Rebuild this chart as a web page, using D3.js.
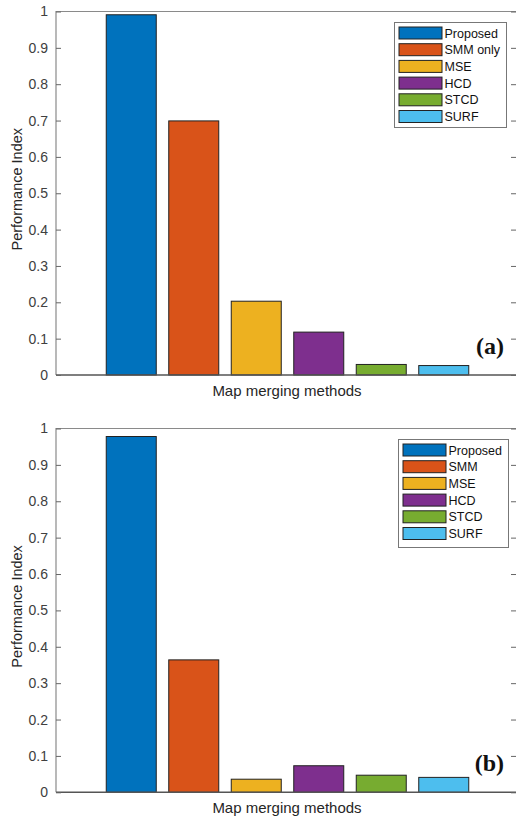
<!DOCTYPE html>
<html>
<head>
<meta charset="utf-8">
<script src="https://cdn.jsdelivr.net/npm/d3@7"></script>
<style>
  body { margin: 0; background: #fff; }
  svg { display: block; font-family: "Liberation Sans", Arial, sans-serif; }
</style>
</head>
<body>
<script>
const w = 516;
const h = 819;

// data
const methodsA = ["Proposed", "SMM only", "MSE", "HCD", "STCD", "SURF"];
const valuesA = [0.991, 0.699, 0.203, 0.118, 0.029, 0.026];
const methodsB = ["Proposed", "SMM", "MSE", "HCD", "STCD", "SURF"];
const valuesB = [0.978, 0.364, 0.036, 0.073, 0.047, 0.041];
const colors = ["#0072BD", "#D95319", "#EDB120", "#7E2F8E", "#77AC30", "#4DBEEE"];
const yTicks = [0, 0.1, 0.2, 0.3, 0.4, 0.5, 0.6, 0.7, 0.8, 0.9, 1];

const svg = d3.select("body")
  .append("svg")
  .attr("width", w)
  .attr("height", h);

const left = 56, right = 517;

function drawPanel(top, bottom, names, values, tag, legendBox) {
  const g = svg.append("g");
  const yScale = d3.scaleLinear().domain([0, 1]).range([bottom, top]);
  const xScale = d3.scaleBand()
    .domain(names)
    .range([100, 475])
    .paddingInner(0.2)
    .paddingOuter(0.1);

  // bars
  g.selectAll("rect.bar")
    .data(values)
    .enter()
    .append("rect")
    .attr("class", "bar")
    .attr("x", (d, i) => xScale(names[i]))
    .attr("width", xScale.bandwidth())
    .attr("y", d => yScale(d))
    .attr("height", d => bottom - yScale(d))
    .attr("fill", (d, i) => colors[i])
    .attr("stroke", "#222")
    .attr("stroke-width", 1);

  // box
  g.append("path")
    .attr("d", `M${left},${bottom}V${top}H${right}`)
    .attr("fill", "none")
    .attr("stroke", "#8a8a8a")
    .attr("stroke-width", 1.2);
  g.append("line")
    .attr("x1", left).attr("x2", right)
    .attr("y1", bottom).attr("y2", bottom)
    .attr("stroke", "#555")
    .attr("stroke-width", 1.6);

  // y axis, inward ticks
  const yAxis = d3.axisLeft(yScale)
    .tickValues(yTicks)
    .tickFormat(d => d === 0 || d === 1 ? d3.format("d")(d) : d3.format(".1f")(d))
    .tickSizeInner(-5)
    .tickSizeOuter(0)
    .tickPadding(8);
  const ya = g.append("g")
    .attr("transform", `translate(${left},0)`)
    .call(yAxis);
  ya.select(".domain").remove();
  ya.selectAll("line").attr("stroke", "#666");
  ya.selectAll("text")
    .attr("fill", "#404040")
    .style("font-size", "14px");

  const yAxisR = d3.axisRight(yScale)
    .tickValues(yTicks)
    .tickFormat("")
    .tickSizeInner(-5)
    .tickSizeOuter(0);
  const yr = g.append("g")
    .attr("transform", `translate(${right - 1},0)`)
    .call(yAxisR);
  yr.select(".domain").remove();
  yr.selectAll("line").attr("stroke", "#666");

  // axis titles
  g.append("text")
    .attr("transform", `translate(22,${(top + bottom) / 2 - 4}) rotate(-90)`)
    .attr("text-anchor", "middle")
    .attr("fill", "#262626")
    .style("font-size", "14.5px")
    .text("Performance Index");
  g.append("text")
    .attr("x", 287)
    .attr("y", bottom + 21)
    .attr("text-anchor", "middle")
    .attr("fill", "#262626")
    .style("font-size", "15px")
    .text("Map merging methods");

  // panel tag
  g.append("text")
    .attr("x", 504)
    .attr("y", bottom - 21)
    .attr("text-anchor", "end")
    .style("font-family", "'Liberation Serif', 'Times New Roman', serif")
    .style("font-weight", "bold")
    .style("font-size", "24px")
    .attr("fill", "#111")
    .text(tag);

  // legend
  const legend = g.append("g")
    .attr("transform", `translate(${legendBox.x},${legendBox.y})`);
  legend.append("rect")
    .attr("width", legendBox.w)
    .attr("height", legendBox.h)
    .attr("fill", "#fff")
    .attr("stroke", "#777")
    .attr("stroke-width", 1);
  legend.selectAll("rect.sw")
    .data(names)
    .enter()
    .append("rect")
    .attr("class", "sw")
    .attr("x", 4.5)
    .attr("y", (d, i) => 4.5 + i * 16.7)
    .attr("width", 43)
    .attr("height", 12)
    .attr("fill", (d, i) => colors[i])
    .attr("stroke", "#222")
    .attr("stroke-width", 1);
  legend.selectAll("text")
    .data(names)
    .enter()
    .append("text")
    .attr("x", 50)
    .attr("y", (d, i) => 15 + i * 16.7)
    .attr("fill", "#111")
    .style("font-size", "12.5px")
    .text(d => d);
}

drawPanel(11.5, 375, methodsA, valuesA, "(a)", {x: 394.5, y: 22.5, w: 112, h: 105});
drawPanel(428.5, 792.3, methodsB, valuesB, "(b)", {x: 398.5, y: 439.5, w: 110, h: 108});
</script>
</body>
</html>
